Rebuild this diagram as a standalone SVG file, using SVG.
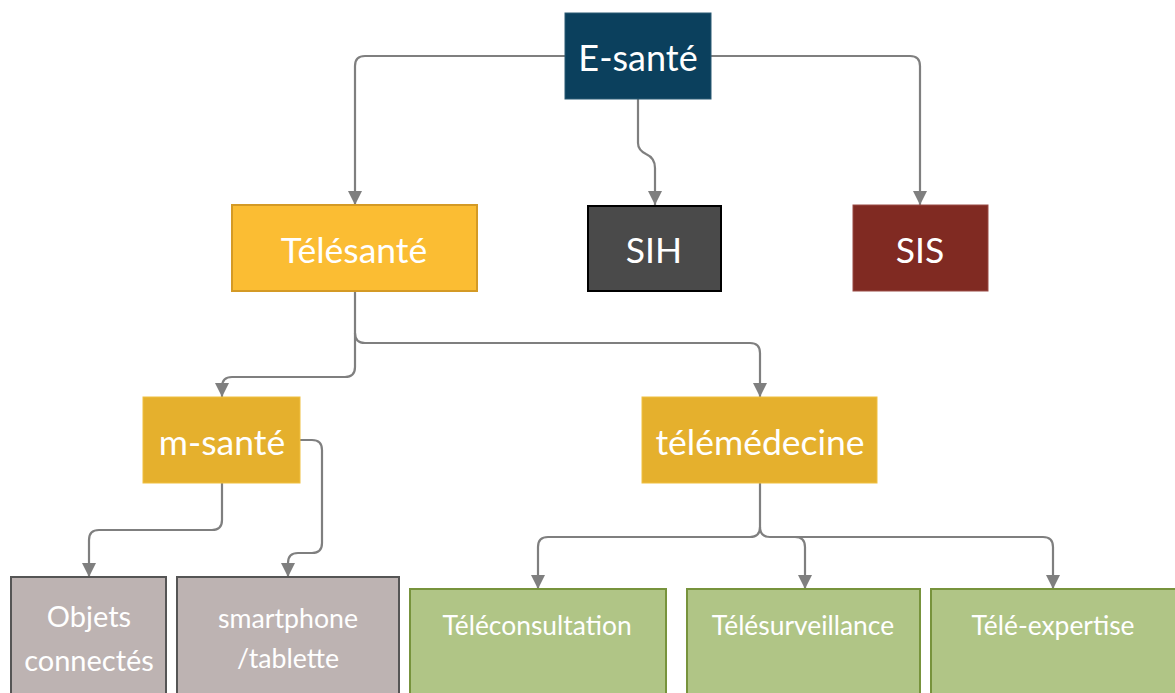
<svg xmlns="http://www.w3.org/2000/svg" width="1175" height="693" viewBox="0 0 1175 693">
<defs>
<marker id="arr" viewBox="0 0 10 10" refX="10" refY="5" markerWidth="14" markerHeight="14" markerUnits="userSpaceOnUse" orient="auto">
<path d="M0,0 L10,5 L0,10 z" fill="#7f7f7f"/>
</marker>
<style>
text{font-family:Lato,"Open Sans","Liberation Sans",sans-serif;fill:#ffffff;text-anchor:middle}
.c{fill:none;stroke:#7f7f7f;stroke-width:2.2;marker-end:url(#arr)}
.big{font-size:36px}
.mid{font-size:35.5px}
.sm{font-size:26.4px}
.gry{fill:#bdb3b2;stroke:#555555;stroke-width:2}
.grn{fill:#b0c586;stroke:#77933c;stroke-width:2}
.gold{fill:#e5b02d;stroke:#f0c040;stroke-width:1}
</style>
</defs>
<rect width="1175" height="693" fill="#ffffff"/>
<g id="connectors">
<path class="c" d="M565,56 H365 Q355,56 355,66 V205"/>
<path class="c" d="M711,56 H910 Q920,56 920,66 V205"/>
<path class="c" d="M638,99 V143 Q638,150 646,154 Q655,158 655,168 V205"/>
<path class="c" d="M355,291 V333 Q355,343 365,343 H750 Q760,343 760,353 V397"/>
<path class="c" d="M355,333 V367 Q355,377 345,377 H232 Q222,377 222,387 V397"/>
<path class="c" d="M222,483 V520 Q222,530 212,530 H99 Q89,530 89,540 V577"/>
<path class="c" d="M300,440 H312 Q322,440 322,450 V543 Q322,553 312,553 H298 Q288,553 288,563 V577"/>
<path class="c" d="M760,483 V527 Q760,537 750,537 H548 Q538,537 538,547 V589"/>
<path class="c" d="M760,527 Q760,537 770,537 H795 Q805,537 805,547 V589"/>
<path class="c" d="M795,537 H1043 Q1053,537 1053,547 V589"/>
</g>
<g id="esante">
<rect x="565" y="13" width="146" height="86" fill="#0b405d" stroke="#2a5a75" stroke-width="1"/>
<text class="big" x="638" y="71">E-santé</text>
</g>
<g id="telesante">
<rect x="232" y="205" width="245" height="86" fill="#fbbd33" stroke="#d49a25" stroke-width="2"/>
<text class="mid" x="354" y="263">Télésanté</text>
</g>
<g id="sih">
<rect x="588" y="206" width="133" height="85" fill="#4a4a4a" stroke="#000000" stroke-width="2"/>
<text class="mid" x="654" y="263">SIH</text>
</g>
<g id="sis">
<rect x="853" y="205" width="135" height="86" fill="#802a22" stroke="#9a4a44" stroke-width="1"/>
<text class="mid" x="920" y="263">SIS</text>
</g>
<g id="msante">
<rect class="gold" x="143" y="397" width="157" height="86"/>
<text class="mid" x="222" y="455">m-santé</text>
</g>
<g id="telemedecine">
<rect class="gold" x="642" y="397" width="235" height="86"/>
<text class="mid" x="760" y="455">télémédecine</text>
</g>
<g id="objets">
<rect class="gry" x="11" y="577" width="155" height="130"/>
<text class="sm" x="89" y="627" style="font-size:29px">Objets</text>
<text class="sm" x="89" y="671" style="font-size:29px">connectés</text>
</g>
<g id="smartphone">
<rect class="gry" x="177" y="577" width="222" height="130"/>
<text class="sm" x="288" y="628" style="font-size:26.7px">smartphone</text>
<text class="sm" x="288" y="668" style="font-size:26.7px">/tablette</text>
</g>
<g id="teleconsultation">
<rect class="grn" x="410" y="589" width="256" height="120"/>
<text class="sm" x="537" y="635">Téléconsultation</text>
</g>
<g id="telesurveillance">
<rect class="grn" x="687" y="589" width="233" height="120"/>
<text class="sm" x="803" y="635">Télésurveillance</text>
</g>
<g id="teleexpertise">
<rect class="grn" x="931" y="589" width="260" height="120"/>
<text class="sm" x="1053" y="635">Télé-expertise</text>
</g>
</svg>
